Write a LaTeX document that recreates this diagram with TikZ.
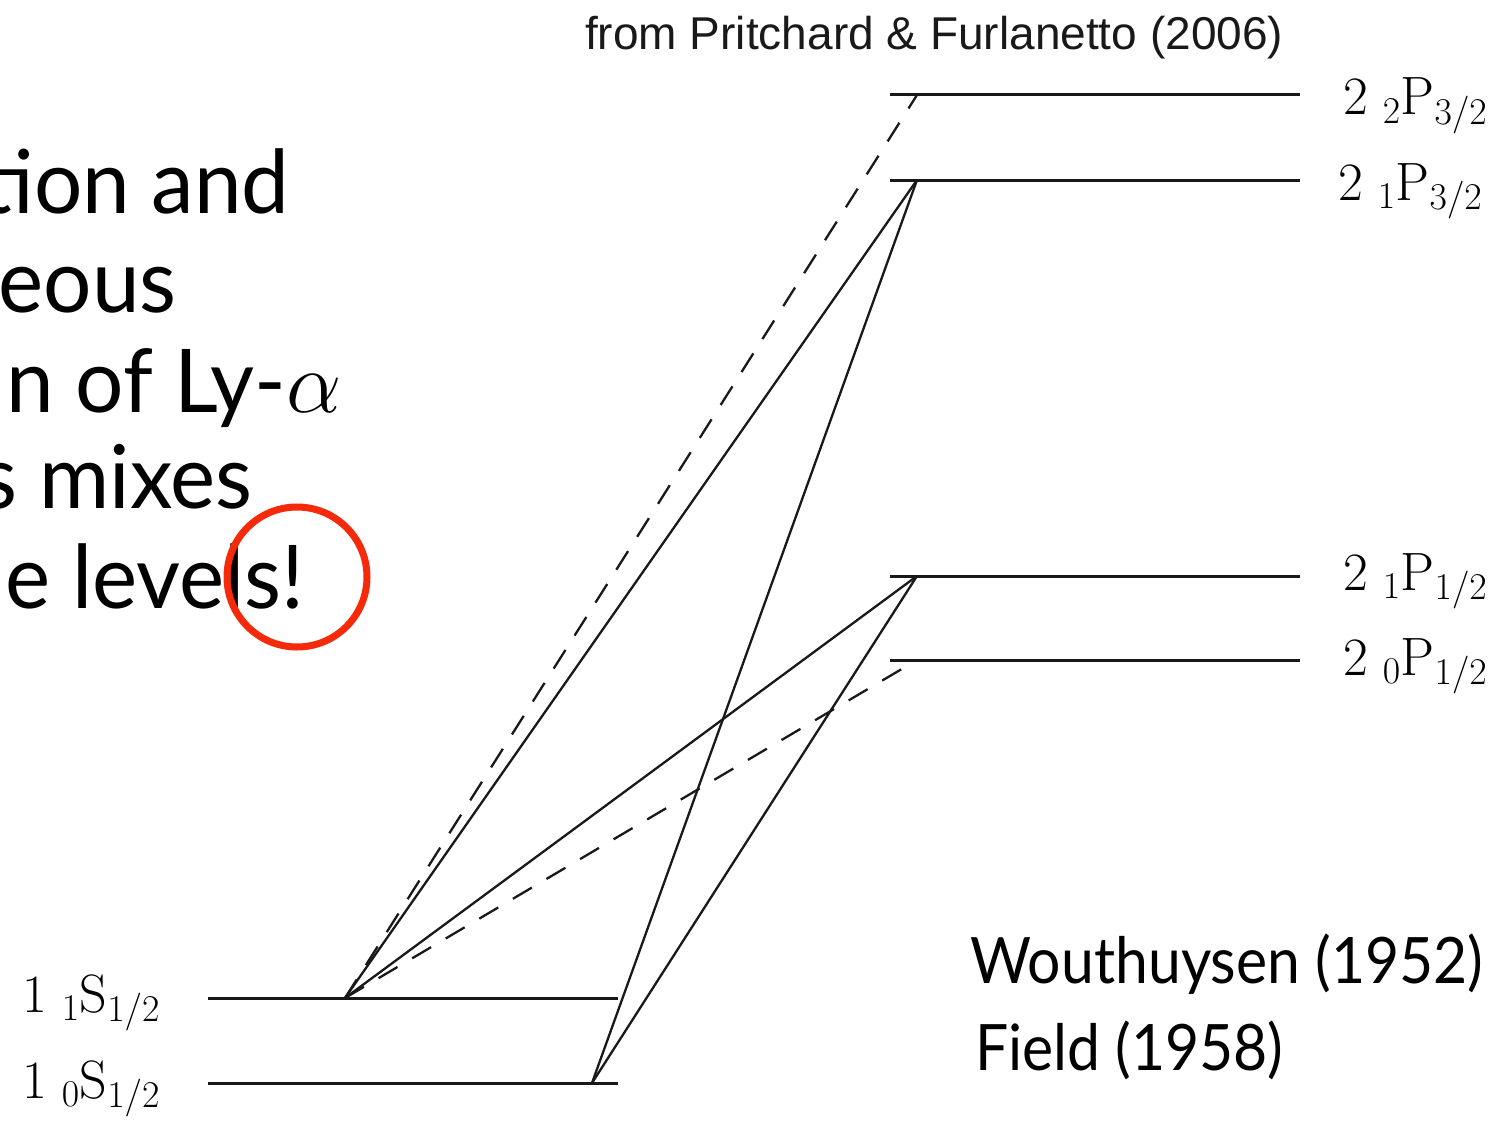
\RequirePackage{fix-cm}
\documentclass[tikz,border=0pt]{standalone}
\usepackage{fontspec}
\newfontfamily\gill[FakeStretch=0.97]{Lato}
\newfontfamily\gillnarrow[FakeStretch=0.92]{Lato}
\newfontfamily\helv{Liberation Sans}
\definecolor{circred}{HTML}{F42A0A}
\begin{document}
\begin{tikzpicture}[x=1pt,y=-1pt,
  level/.style={line width=3pt, black!90},
  trans/.style={line width=2.3pt, black!90},
  dashtrans/.style={trans, dash pattern=on 22pt off 17pt},
  slide/.style={font=\gill\fontsize{88}{100}\selectfont, anchor=base east, inner sep=0pt},
  ref/.style={font=\gillnarrow\fontsize{64}{76}\selectfont, anchor=base west, inner sep=0pt},
  state/.style={font=\fontsize{54}{62}\selectfont, anchor=base west, inner sep=0pt}]
\useasboundingbox (0,0) rectangle (1501,1121);
\clip (0,0) rectangle (1501,1121);

% slide text (cropped at the left, as in the reference)
\node[slide] (t1) at (290,213) {tion and};
\node[slide] (t2) at (177,312) {eous};
\node[slide] (t3) at (342,412) {n of Ly-$\alpha$};
\node[slide] (t4) at (253,508) {s mixes};
\node[slide] (t5) at (305,608) {e levels!};
\draw[circred, line width=7pt] (297,577) circle (70);

% source
\node[font=\helv\fontsize{46}{55}\selectfont, anchor=base west, inner sep=0pt, black!90] (src) at (585,50) {from Pritchard \& Furlanetto (2006)};

% level coordinates
\coordinate (P22L) at (890,95);  \coordinate (P22R) at (1300,95);  \coordinate (P22c) at (917,95);
\coordinate (P12L) at (890,180); \coordinate (P12R) at (1300,180); \coordinate (P12c) at (917,180);
\coordinate (P11L) at (890,576); \coordinate (P11R) at (1300,576); \coordinate (P11c) at (917,576);
\coordinate (P01L) at (890,660); \coordinate (P01R) at (1300,660); \coordinate (P01c) at (917,660);
\coordinate (S1L) at (208,998);  \coordinate (S1R) at (618,998);   \coordinate (S1c) at (345,998);
\coordinate (S0L) at (208,1083); \coordinate (S0R) at (618,1083);  \coordinate (S0c) at (592,1083);

% levels
\draw[level] (P22L) -- (P22R);
\draw[level] (P12L) -- (P12R);
\draw[level] (P11L) -- (P11R);
\draw[level] (P01L) -- (P01R);
\draw[level] (S1L) -- (S1R);
\draw[level] (S0L) -- (S0R);

% transitions
\draw[dashtrans] (S1c) -- (P22c);
\draw[trans] (S1c) -- (P12c);
\draw[trans] (S1c) -- (P11c);
\draw[dashtrans] (S1c) -- (P01c);
\draw[trans] (S0c) -- (P12c);
\draw[trans] (S0c) -- (P11c);

% state labels
\node[state] (lP22) at (1343,115) {$2\;{}_{2}\mathrm{P}_{3/2}$};
\node[state] (lP12) at (1338,200) {$2\;{}_{1}\mathrm{P}_{3/2}$};
\node[state] (lP11) at (1343,590) {$2\;{}_{1}\mathrm{P}_{1/2}$};
\node[state] (lP01) at (1343,675) {$2\;{}_{0}\mathrm{P}_{1/2}$};
\node[state] (lS1) at (22,1012) {$1\;{}_{1}\mathrm{S}_{1/2}$};
\node[state] (lS0) at (22,1098) {$1\;{}_{0}\mathrm{S}_{1/2}$};

% references
\node[ref] (wout) at (970,983) {Wouthuysen (1952)};
\node[ref] (field) at (975,1070) {Field (1958)};
\end{tikzpicture}
\end{document}
